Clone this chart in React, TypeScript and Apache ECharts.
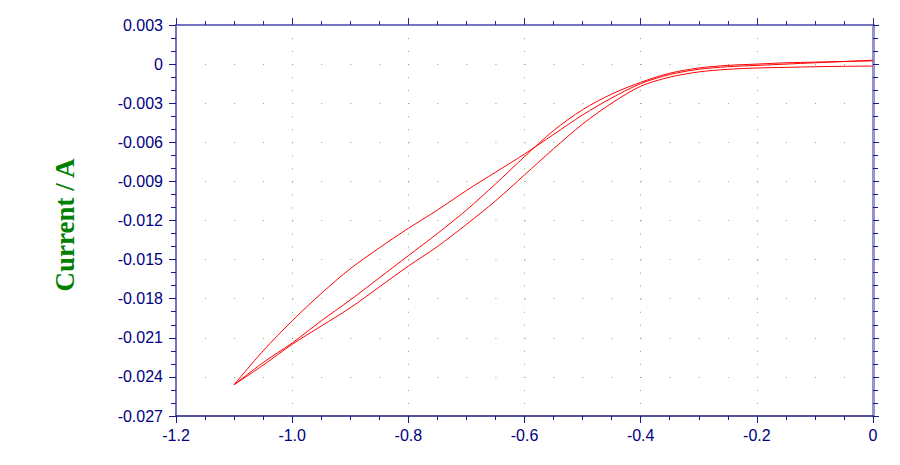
import React, { useEffect, useRef } from "react";
import * as echarts from "echarts";

// Potential grid (V), shared by all sweeps
const potentials = [
  0, -0.05, -0.1, -0.15, -0.2, -0.25, -0.3, -0.35, -0.4, -0.45, -0.5, -0.55,
  -0.6, -0.65, -0.7, -0.75, -0.8, -0.85, -0.9, -0.95, -1.0, -1.05, -1.1,
];

// First cathodic sweep (0 -> -1.1 V), current in A
const sweep1Current = [
  -0.00015, -0.00017, -0.0002, -0.00025, -0.0003, -0.0004, -0.0006, -0.001,
  -0.0017, -0.003, -0.0046, -0.0065, -0.0085, -0.0105, -0.0123, -0.014,
  -0.0155, -0.0171, -0.0187, -0.0201, -0.0215, -0.0231, -0.0246,
];

// Return sweep (-1.1 -> 0 V), listed in the order of `potentials`
const returnCurrent = [
  0.0003, 0.0002, 0.0001, 0, -0.0001, -0.0002, -0.0004, -0.0008, -0.0015,
  -0.0026, -0.0039, -0.0054, -0.0069, -0.0083, -0.0097, -0.0112, -0.0126,
  -0.0141, -0.0157, -0.0176, -0.0197, -0.022, -0.0246,
];

// Second cathodic sweep (0 -> -1.1 V)
const sweep2Current = [
  0.00025, 0.0002, 0.00015, 0.0001, 0, -0.0001, -0.0003, -0.0007, -0.0014,
  -0.0023, -0.0035, -0.0051, -0.0071, -0.0092, -0.0112, -0.013, -0.0147,
  -0.0164, -0.0181, -0.0197, -0.0214, -0.0229, -0.0246,
];

const xMin = -1.2;
const xMax = 0;
const xStep = 0.2;
const yMin = -0.027;
const yMax = 0.003;
const yStep = 0.003;

const yTitle = "Current / A";

const NAVY = "#000080";
const AXIS_PURPLE = "#7474c2";
const DOT = "#86b450";

function pairs(cur: number[], reverse = false) {
  const d = potentials.map((e, i) => [e, cur[i]]);
  return reverse ? d.reverse() : d;
}

export default function App() {
  const ref = useRef<HTMLDivElement>(null);
  useEffect(() => {
    if (!ref.current) return;
    const chart = echarts.init(ref.current, null, { renderer: "svg" });
    const labelFont = {
      color: NAVY,
      fontSize: 16,
      fontFamily: "'Liberation Sans', Arial, sans-serif",
    };
    const lineSeries = (data: number[][]) => ({
      type: "line",
      data,
      showSymbol: false,
      symbol: "none",
      smooth: 0.3,
      lineStyle: { color: "#ff0000", width: 1 },
      xAxisIndex: 0,
      yAxisIndex: 0,
      z: 5,
    });
    chart.setOption({
      animation: false,
      backgroundColor: "#ffffff",
      grid: { left: 176, top: 25, right: 27, bottom: 49, containLabel: false },
      graphic: [
        {
          type: "text",
          x: 65,
          y: 225,
          rotation: Math.PI / 2,
          style: {
            text: yTitle,
            fill: "#008000",
            font: "bold 27px 'Liberation Serif', 'Times New Roman', serif",
            textAlign: "center",
            textVerticalAlign: "middle",
          },
        },
      ],
      xAxis: [
        {
          type: "value",
          min: xMin,
          max: xMax,
          interval: xStep,
          position: "bottom",
          axisLine: { show: true, onZero: false, lineStyle: { color: "#1a1a80", width: 1.5 } },
          axisTick: { show: true, inside: false, length: 7, lineStyle: { color: "#1a1a80" } },
          minorTick: { show: true, splitNumber: 4, length: 4, lineStyle: { color: "#1a1a80" } },
          axisLabel: {
            ...labelFont,
            margin: 11,
            formatter: (v: number) => (Math.abs(v) < 1e-9 ? "0" : v.toFixed(1)),
          },
          splitLine: {
            show: true,
            lineStyle: { color: DOT, width: 1, type: [1, 12.033] },
          },
        },
        {
          type: "value",
          min: xMin,
          max: xMax,
          interval: xStep,
          position: "top",
          axisLine: { show: true, onZero: false, lineStyle: { color: AXIS_PURPLE, width: 2 } },
          axisTick: { show: true, inside: false, length: 7, lineStyle: { color: "#2a2a90" } },
          minorTick: { show: true, splitNumber: 4, length: 4, lineStyle: { color: "#2a2a90" } },
          axisLabel: { show: false },
          splitLine: { show: false },
        },
      ],
      yAxis: [
        {
          type: "value",
          min: yMin,
          max: yMax,
          interval: yStep,
          position: "left",
          axisLine: { show: true, onZero: false, lineStyle: { color: AXIS_PURPLE, width: 2 } },
          axisTick: { show: true, inside: false, length: 7, lineStyle: { color: "#1a1a80" } },
          minorTick: { show: true, splitNumber: 3, length: 5, lineStyle: { color: "#1a1a80" } },
          axisLabel: {
            ...labelFont,
            margin: 13,
            formatter: (v: number) => (Math.abs(v) < 1e-9 ? "0" : v.toFixed(3)),
          },
          splitLine: {
            show: true,
            lineStyle: { color: DOT, width: 1, type: [1, 28.042] },
          },
        },
        {
          type: "value",
          min: yMin,
          max: yMax,
          interval: yStep,
          position: "right",
          axisLine: { show: true, onZero: false, lineStyle: { color: "#9494d4", width: 3 } },
          axisTick: { show: true, inside: false, length: 6, lineStyle: { color: "#1a1a80" } },
          minorTick: { show: true, splitNumber: 3, length: 5, lineStyle: { color: "#1a1a80" } },
          axisLabel: { show: false },
          splitLine: { show: false },
        },
      ],
      series: [
        lineSeries(pairs(sweep1Current)),
        lineSeries(pairs(returnCurrent, true)),
        lineSeries(pairs(sweep2Current)),
      ],
    });
    return () => chart.dispose();
  }, []);
  return (
    <div
      ref={ref}
      style={{ position: "absolute", left: 0, top: 0, width: 900, height: 465 }}
    />
  );
}
